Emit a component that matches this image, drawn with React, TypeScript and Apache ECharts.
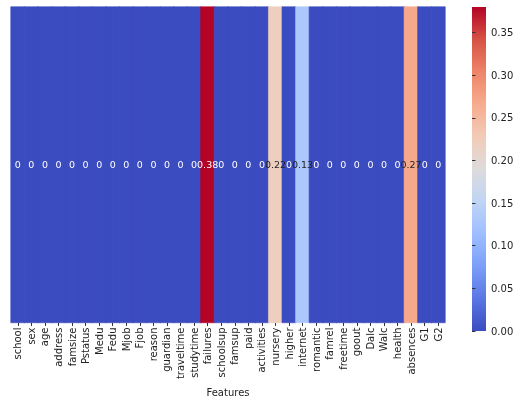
import React, { useEffect, useRef } from "react";
import * as echarts from "echarts";

const features = [
  "school", "sex", "age", "address", "famsize", "Pstatus", "Medu", "Fedu",
  "Mjob", "Fjob", "reason", "guardian", "traveltime", "studytime", "failures",
  "schoolsup", "famsup", "paid", "activities", "nursery", "higher", "internet",
  "romantic", "famrel", "freetime", "goout", "Dalc", "Walc", "health",
  "absences", "G1", "G2",
];
const values = [
  0, 0, 0, 0, 0, 0, 0, 0, 0, 0, 0, 0, 0, 0, 0.38,
  0, 0, 0, 0, 0.22, 0, 0.13,
  0, 0, 0, 0, 0, 0, 0,
  0.27, 0, 0,
];
const colorbarTicks = [0, 0.05, 0.1, 0.15, 0.2, 0.25, 0.3, 0.35];
const vMin = 0;
const vMax = 0.38;
const coolwarm = [
  "#3b4cc0", "#5977e3", "#7b9ff9", "#9ebeff", "#c0d4f5", "#dddcdc",
  "#f2cbb7", "#f7ac8e", "#ee8468", "#d65244", "#b40426",
];

function hexToRgb(h: string) {
  return [1, 3, 5].map((i) => parseInt(h.slice(i, i + 2), 16));
}
function cmap(t: number) {
  const n = coolwarm.length - 1;
  const x = Math.max(0, Math.min(1, t)) * n;
  const i = Math.min(Math.floor(x), n - 1);
  const f = x - i;
  const a = hexToRgb(coolwarm[i]);
  const b = hexToRgb(coolwarm[i + 1]);
  const c = a.map((v, k) => Math.round(v + (b[k] - v) * f));
  return `rgb(${c[0]},${c[1]},${c[2]})`;
}

export default function App() {
  const ref = useRef<HTMLDivElement>(null);
  useEffect(() => {
    if (!ref.current) return;
    const chart = echarts.init(ref.current, null, { renderer: "svg" });
    const font = "DejaVu Sans";
    const data = values.map((v, i) => {
      const t = (v - vMin) / (vMax - vMin);
      const light = t > 0.25 && t < 0.8;
      return {
        value: [i, 0, v],
        label: { color: light ? "#262626" : "#ffffff" },
        itemStyle: { borderColor: cmap(t), borderWidth: 0.6 },
      };
    });
    const stops = coolwarm.map((c, i) => ({
      offset: 1 - i / (coolwarm.length - 1),
      color: c,
    })).reverse();
    chart.setOption({
      animation: false,
      textStyle: { fontFamily: font },
      grid: [
        { left: 11, right: 79, top: 7, bottom: 71 },
        { left: 472, width: 14, top: 7, height: 324 },
      ],
      graphic: [
        {
          type: "rect",
          left: 472,
          top: 7,
          shape: { width: 14, height: 324 },
          style: {
            fill: new echarts.graphic.LinearGradient(0, 0, 0, 1, stops),
          },
          silent: true,
        },
      ],
      xAxis: [
        {
          type: "category",
          gridIndex: 0,
          data: features,
          name: "Features",
          nameLocation: "middle",
          nameGap: 61,
          nameTextStyle: { fontSize: 10, color: "#222", fontFamily: font },
          axisLine: { show: false },
          axisTick: {
            show: true,
            alignWithLabel: true,
            length: 3.5,
            lineStyle: { color: "#333" },
          },
          axisLabel: {
            rotate: 90,
            fontSize: 10,
            color: "#222",
            interval: 0,
            margin: 5,
            fontFamily: font,
          },
          splitLine: { show: false },
        },
        {
          type: "value",
          gridIndex: 1,
          show: false,
          min: 0,
          max: 1,
        },
      ],
      yAxis: [
        {
          type: "category",
          gridIndex: 0,
          data: [""],
          show: false,
        },
        {
          type: "value",
          gridIndex: 1,
          min: 0,
          max: vMax,
          position: "right",
          axisLine: { show: false },
          axisTick: {
            show: true,
            length: 3.5,
            lineStyle: { color: "#333" },
            customValues: colorbarTicks,
          },
          axisLabel: {
            fontSize: 10,
            color: "#222",
            margin: 5,
            fontFamily: font,
            customValues: colorbarTicks,
            formatter: (v: number) => v.toFixed(2),
          },
          splitLine: { show: false },
        },
      ],
      visualMap: {
        type: "continuous",
        show: false,
        min: vMin,
        max: vMax,
        dimension: 2,
        seriesIndex: 0,
        inRange: { color: coolwarm },
      },
      series: [
        {
          type: "heatmap",
          xAxisIndex: 0,
          yAxisIndex: 0,
          data,
          label: {
            show: true,
            fontSize: 9.5,
            fontFamily: font,
            formatter: (p: any) => {
              const v = p.value[2];
              return v === 0 ? "0" : v.toFixed(2);
            },
          },
          emphasis: { disabled: true },
        },
      ],
    });
    return () => chart.dispose();
  }, []);
  return (
    <div
      ref={ref}
      style={{ position: "fixed", left: 0, top: 0, width: 524, height: 402 }}
    />
  );
}
